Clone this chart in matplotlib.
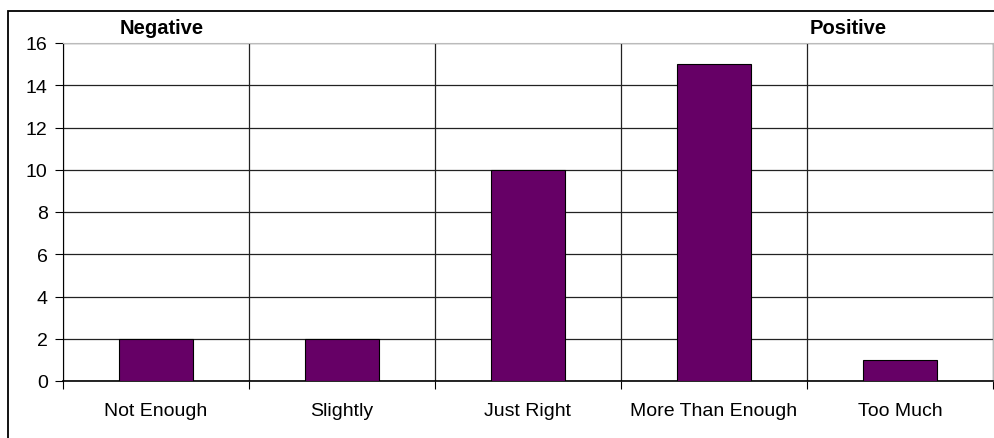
import matplotlib.pyplot as plt
from matplotlib.patches import Rectangle
import numpy as np

categories = ["Not Enough", "Slightly", "Just Right", "More Than Enough", "Too Much"]
counts = [2, 2, 10, 15, 1]
yticks = [0, 2, 4, 6, 8, 10, 12, 14, 16]

plt.rcParams['font.family'] = ['Liberation Sans', 'DejaVu Sans']

W, H = 995, 439
fig = plt.figure(figsize=(W / 100, H / 100), dpi=100)

# outer chart frame (runs off the right and bottom edges)
fig.patches.append(Rectangle((8 / W, -0.1), 1.1, (H - 12) / H + 0.1,
                             transform=fig.transFigure, fill=False,
                             edgecolor="black", linewidth=1.3))

ax = fig.add_axes([63 / W, 57 / H, 930 / W, 338 / H])
x = np.arange(len(categories))
ax.bar(x, counts, width=0.4, color="#660066", edgecolor="black",
       linewidth=0.8, zorder=3)

ax.set_xlim(-0.5, len(categories) - 0.5)
ax.set_ylim(0, 16)
ax.set_yticks(yticks)
ax.tick_params(axis="y", labelsize=14, length=6, width=0.8, direction="out", pad=5)

# category labels between boundary ticks
ax.set_xticks(np.arange(len(categories) + 1) - 0.5)
ax.set_xticklabels([])
ax.set_xticks(x, minor=True)
ax.set_xticklabels(categories, minor=True, fontsize=14)
ax.tick_params(axis="x", which="major", length=6, width=0.8, direction="out")
ax.tick_params(axis="x", which="minor", length=0, pad=15)

ax.grid(axis="y", color="#222222", linewidth=0.9, zorder=0)
ax.grid(axis="x", which="major", color="#222222", linewidth=0.9, zorder=0)

for side in ["top", "right"]:
    ax.spines[side].set_color("#bbbbbb")
ax.spines["left"].set_color("black")
ax.spines["bottom"].set_color("black")
ax.spines["bottom"].set_linewidth(1.2)

fig.text(162 / W, 1 - 29 / H, "Negative", ha="center", va="center",
         fontsize=14.5, fontweight="bold")
fig.text(848 / W, 1 - 29 / H, "Positive", ha="center", va="center",
         fontsize=14.5, fontweight="bold")

fig.savefig("out.png", dpi=100)
